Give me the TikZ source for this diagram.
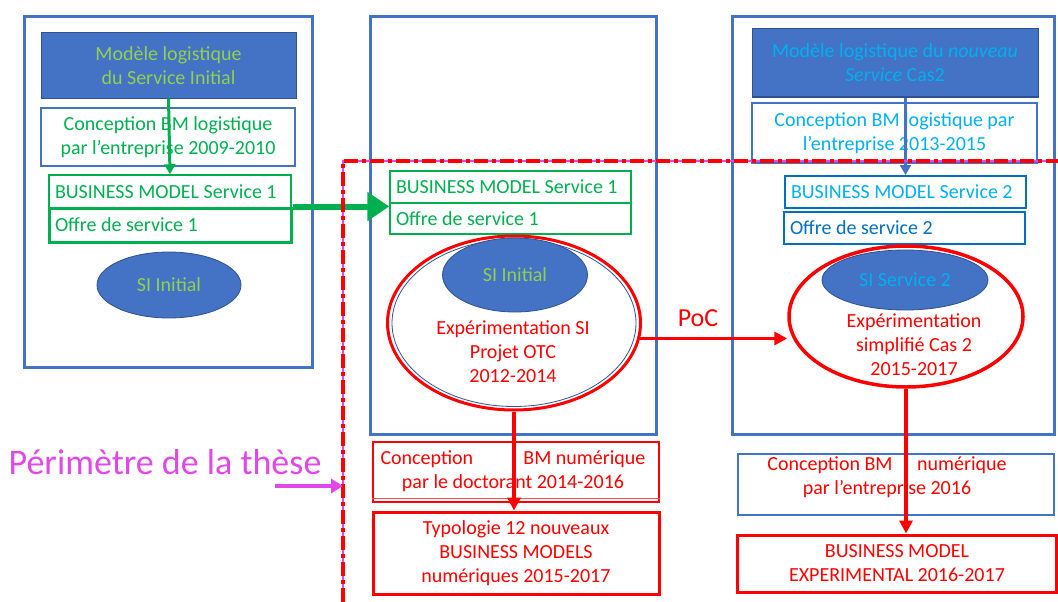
\documentclass[tikz,border=0pt]{standalone}
\usepackage{fontspec}
\setmainfont{Carlito}
\usetikzlibrary{arrows.meta,shapes.geometric,calc}
\definecolor{pblue}{RGB}{68,114,196}
\definecolor{dblue}{RGB}{47,82,143}
\definecolor{lime}{RGB}{146,208,80}
\definecolor{mgreen}{RGB}{0,176,80}
\definecolor{lblue}{RGB}{0,176,240}
\definecolor{oblue}{RGB}{0,112,192}
\definecolor{mred}{RGB}{255,0,0}
\definecolor{mag}{RGB}{226,72,232}
\begin{document}
\begin{tikzpicture}[x=1pt,y=-1pt,
  every node/.style={font=\fontsize{20}{24}\selectfont, inner sep=0pt},
  panel/.style={draw=pblue, line width=3pt, rectangle},
  topbox/.style={draw=dblue, line width=1pt, fill=pblue, align=flush center},
  bbox/.style={draw=pblue, line width=2.5pt, align=flush center},
  gbox/.style={draw=mgreen, line width=1.5pt, align=flush left, inner xsep=6pt},
  obox/.style={draw=oblue, line width=2pt, align=flush left, inner xsep=6pt},
  rbox/.style={draw=mred, line width=3pt, align=flush center, text=mred},
  siell/.style={ellipse, draw=dblue, line width=0.8pt, fill=pblue},
  bigell/.style={ellipse, draw=mred, line width=3pt, fill=white},
  garrow/.style={draw=mgreen, line width=3pt, -{Triangle[length=10pt,width=11pt]}},
  barrow/.style={draw=pblue, line width=3pt, -{Triangle[length=10pt,width=11pt]}},
  rarrow/.style={draw=mred, line width=3.5pt, -{Triangle[length=13pt,width=13pt]}},
  txt/.style={align=flush center},
]
\useasboundingbox (0,0) rectangle (1058,602);

% ---------- left panel ----------
\node[panel, minimum width=288, minimum height=350] (lp) at (168,192) {};
\node[topbox, text=lime, minimum width=255, minimum height=65] (lm) at (168.5,65.5)
  {Modèle logistique\\du Service Initial};
\node[bbox, text=mgreen, minimum width=254, minimum height=58] (lc) at (168,137)
  {Conception BM logistique\\par l’entreprise 2009-2010};
\node[gbox, text=mgreen, text width=230, minimum height=33] (bm1) at (170,191.5)
  {BUSINESS MODEL Service 1};
\node[gbox, line width=3pt, text=mgreen, text width=230, minimum height=34] (of1) at (170,225)
  {Offre de service 1};
\node[siell, text=lime, minimum width=144, minimum height=66] (si1) at (169,285) {SI Initial};
\draw[garrow] (lm.south) -- (bm1.north);

% ---------- middle panel ----------
\node[panel, minimum width=286, minimum height=417] (mp) at (513,225.5) {};
\node[gbox, text=mgreen, text width=229, minimum height=32] (bm1m) at (510.5,187)
  {BUSINESS MODEL Service 1};
\node[gbox, text=mgreen, text width=229, minimum height=31] (of1m) at (510.5,218.5)
  {Offre de service 1};
\node[bigell, minimum width=253, minimum height=174] (mell) at (514,323) {};
\draw[dblue, line width=0.8pt] (mell.center) ellipse [x radius=122, y radius=83.5];
\node[siell, text=lime, minimum width=145, minimum height=74] (si1m) at (515,275) {SI Initial};
\node[txt, text=mred] (mtxt) at (513,352) {Expérimentation SI\\Projet OTC\\2012-2014};

\draw[draw=mgreen, line width=6pt, -{Triangle[length=22pt,width=28pt]}]
  (of1.north east) -- (of1.north east -| bm1m.west);

% ---------- right panel ----------
\node[panel, minimum width=322, minimum height=417] (rp) at (893,225.5) {};
\node[topbox, text=lblue, minimum width=286, minimum height=68] (rm) at (895,63)
  {Modèle logistique du \textit{nouveau}\\\textit{Service} Cas2};
\node[bbox, text=lblue, minimum width=285, minimum height=60] (rc) at (894.5,133)
  {Conception BM logistique par\\l’entreprise 2013-2015};
\node[obox, text=lblue, text width=229, minimum height=32] (bm2) at (905.5,192)
  {BUSINESS MODEL Service 2};
\node[obox, text=oblue, text width=229, minimum height=32] (of2) at (904.5,228)
  {Offre de service 2};
\draw[barrow] (bm2.north |- rm.south) -- (bm2.north);
\node[bigell, line width=3.5pt, minimum width=234, minimum height=141] (rell) at (906,316.5) {};
\node[siell, text=lblue, minimum width=166, minimum height=60] (si2) at (905,280) {SI Service 2};
\node[txt, text=mred] (rtxt) at (914,345) {Expérimentation\\simplifié Cas 2\\2015-2017};

% PoC
\draw[rarrow] (mell.-7) -- (mell.-7 -| rell.west) coordinate (pocend);
\node[font=\fontsize{26}{30}\selectfont, text=mred] (poc) at (698,318) {PoC};

% ---------- bottom middle ----------
\node[rbox, line width=2pt, minimum width=286, minimum height=60] (cbm) at (516,472) {};
\draw[mred!70, line width=1pt] ([yshift=5pt]cbm.south west) -- ([yshift=5pt]cbm.south east);
\node[txt, text=mred, text width=265] (cbmt) at (513,471)
  {Conception\hskip 0pt plus 1fill BM numérique\\par le doctorant 2014-2016};
\node[rbox, minimum width=286, minimum height=82] (typ) at (516,553)
  {Typologie 12 nouveaux\\BUSINESS MODELS\\numériques 2015-2017};
\draw[rarrow] (mell.south) -- (mell.south |- typ.north);

% ---------- bottom right ----------
\node[bbox, minimum width=316, minimum height=61] (rcbm) at (896,484.5) {};
\node[txt, text=mred] (rcbmt) at (887,477)
  {Conception BM\quad\ numérique\\par l’entreprise 2016};
\node[rbox, minimum width=319, minimum height=57] (bmx) at (897,563.5)
  {BUSINESS MODEL\\EXPERIMENTAL 2016-2017};
\draw[rarrow] (rell.south) -- (rell.south |- bmx.north);

% ---------- perimeter ----------
\coordinate (pc) at (343,161);
\coordinate (pr) at (1058,161);
\coordinate (pb) at (343,602);
\draw[mag, line width=1.5pt] (pb) -- (pc) -- (pr);
\draw[mred, line width=4pt, dash pattern=on 14pt off 4pt on 4pt off 4pt] (pb) -- (pc) -- (pr);
\node[font=\fontsize{36}{40}\selectfont, text=mag] (per) at (165,462) {Périmètre de la thèse};
\coordinate (pa) at (275,486);
\draw[mag, line width=4pt, -{Triangle[length=12pt,width=14pt]}] (pa) -- (pa -| pc);
\end{tikzpicture}
\end{document}
